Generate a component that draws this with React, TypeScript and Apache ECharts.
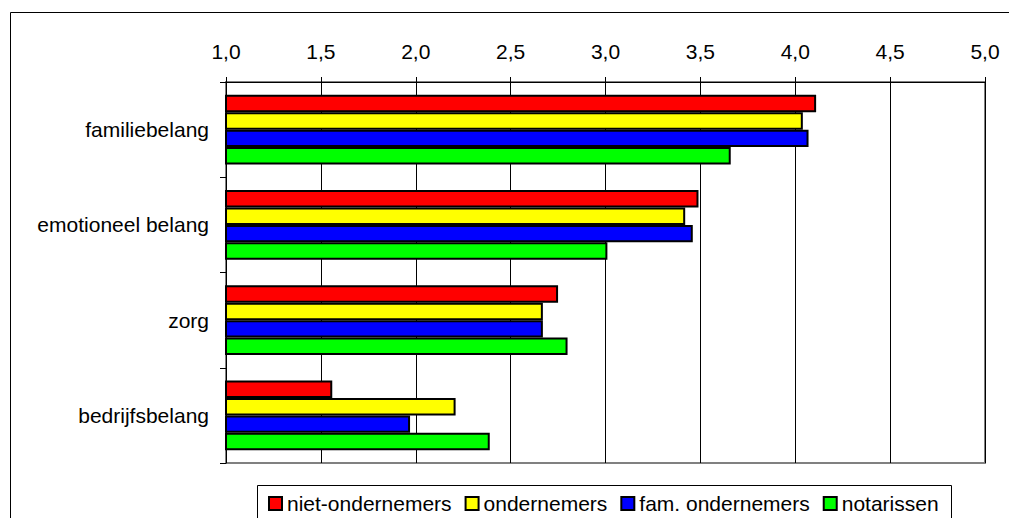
import React, { useEffect, useRef } from "react";
import * as echarts from "echarts";

const categories = ["familiebelang", "emotioneel belang", "zorg", "bedrijfsbelang"];
const seriesNames = ["niet-ondernemers", "ondernemers", "fam. ondernemers", "notarissen"];
const seriesColors = ["#ff0000", "#ffff00", "#0000ff", "#00ff00"];
const nietOndernemers = [4.11, 3.49, 2.75, 1.56];
const ondernemers = [4.04, 3.42, 2.67, 2.21];
const famOndernemers = [4.07, 3.46, 2.67, 1.97];
const notarissen = [3.66, 3.01, 2.8, 2.39];
const seriesValues = [nietOndernemers, ondernemers, famOndernemers, notarissen];

export default function App() {
  const ref = useRef<HTMLDivElement>(null);
  useEffect(() => {
    if (!ref.current) return;
    const chart = echarts.init(ref.current, null, { renderer: "svg" });
    const font = "'Liberation Sans', Arial, sans-serif";
    chart.setOption({
      animation: false,
      textStyle: { fontFamily: font },
      grid: {
        left: 226,
        right: 24,
        top: 82,
        bottom: 55,
        show: true,
        borderColor: "#808080",
        borderWidth: 2,
        backgroundColor: "transparent",
      },
      xAxis: {
        type: "value",
        position: "top",
        min: 1,
        max: 5,
        interval: 0.5,
        axisLine: { show: true, lineStyle: { color: "#000", width: 1 } },
        axisTick: { show: true, length: 5, lineStyle: { color: "#000" } },
        splitLine: { show: true, lineStyle: { color: "#000", width: 1 } },
        axisLabel: {
          color: "#000",
          fontSize: 21,
          fontFamily: font,
          margin: 20,
          formatter: (v: number) => v.toFixed(1).replace(".", ","),
        },
      },
      yAxis: {
        type: "category",
        data: categories,
        inverse: true,
        axisLine: { show: true, lineStyle: { color: "#000", width: 1 } },
        axisTick: { show: true, length: 6, lineStyle: { color: "#000" } },
        axisLabel: { color: "#000", fontSize: 21, fontFamily: font, margin: 17 },
      },
      legend: {
        left: 263,
        top: 488,
        itemWidth: 13,
        itemHeight: 13,
        itemGap: 13,
        icon: "rect",
        itemStyle: { borderColor: "#000", borderWidth: 2 },
        textStyle: { color: "#000", fontSize: 21, fontFamily: font },
        data: seriesNames,
      },
      graphic: [
        {
          type: "rect",
          shape: { x: 10.5, y: 12.5, width: 1100, height: 600 },
          style: { fill: "none", stroke: "#000", lineWidth: 1 },
          silent: true,
        },
        {
          type: "rect",
          shape: { x: 257.5, y: 485.5, width: 694, height: 60 },
          style: { fill: "none", stroke: "#000", lineWidth: 1 },
          silent: true,
        },
      ],
      series: seriesNames.map((name, i) => ({
        name,
        type: "bar",
        data: seriesValues[i],
        barGap: "0%",
        barCategoryGap: "27%",
        itemStyle: { color: seriesColors[i], borderColor: "#000", borderWidth: 2 },
      })),
    });
    return () => chart.dispose();
  }, []);
  return (
    <div
      ref={ref}
      style={{ position: "fixed", left: 0, top: 0, width: 1009, height: 518, background: "#fff" }}
    />
  );
}
